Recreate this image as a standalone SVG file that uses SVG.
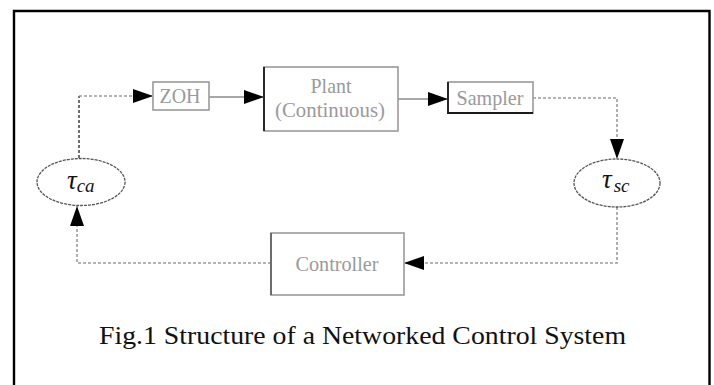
<svg xmlns="http://www.w3.org/2000/svg" width="714" height="385" viewBox="0 0 714 385">
  <style>
    .box { fill: #ffffff; stroke: #9a9a9a; stroke-width: 1.6; }
    .edge { fill: none; stroke: #1a1a1a; stroke-width: 1.8; }
    .lbl { font-family: "Liberation Serif", "Times New Roman", serif; font-size: 22px; fill: #9a9a9a; text-anchor: middle; }
    .tau { font-family: "Liberation Serif", "Times New Roman", serif; font-style: italic; fill: #111111; }
    .solid { fill: none; stroke: #a8a8a8; stroke-width: 2.2; }
    .dash { fill: none; stroke: #9c9c9c; stroke-width: 1.6; stroke-dasharray: 3 2; }
    .dash-dark { fill: none; stroke: #333333; stroke-width: 1.4; stroke-dasharray: 3 2; }
    .oval { fill: #ffffff; stroke: #555555; stroke-width: 1.3; stroke-dasharray: 3 1; }
    .caption { font-family: "Liberation Serif", "Times New Roman", serif; font-size: 26px; fill: #111111; }
  </style>
  <defs>
    <marker id="arrow" markerUnits="userSpaceOnUse" markerWidth="20" markerHeight="14" refX="20" refY="7" orient="auto">
      <path d="M0,0 L20,7 L0,14 Z" fill="#000000"/>
    </marker>
  </defs>

  <rect x="0" y="0" width="714" height="385" fill="#ffffff"/>

  <!-- outer frame (open at the bottom) -->
  <path d="M14,390 V11 H709.5 V390" fill="none" stroke="#000000" stroke-width="2.4"/>

  <!-- connectors -->
  <g id="connectors">
    <path class="dash-dark" d="M79,158 V96"/>
    <path class="dash" d="M79,96 H153" marker-end="url(#arrow)"/>
    <path class="solid" d="M209,97 H264" marker-end="url(#arrow)"/>
    <path class="solid" d="M398,99 H448" marker-end="url(#arrow)"/>
    <path class="dash" d="M533,98 H617 V159" marker-end="url(#arrow)"/>
    <path class="dash" d="M617,207 V263 H404" marker-end="url(#arrow)"/>
    <path class="dash" d="M271,263 H77 V206" marker-end="url(#arrow)"/>
  </g>

  <g id="zoh">
    <rect class="box" x="153" y="82" width="56" height="28"/>
    <text class="lbl" x="180" y="103" textLength="41" lengthAdjust="spacingAndGlyphs">ZOH</text>
  </g>

  <g id="plant">
    <rect class="box" x="264" y="67" width="134" height="64"/>
    <path class="edge" d="M264,67 V131"/>
    <text class="lbl" x="331" y="93" textLength="41" lengthAdjust="spacingAndGlyphs">Plant</text>
    <text class="lbl" x="330" y="117" textLength="110" lengthAdjust="spacingAndGlyphs">(Continuous)</text>
  </g>

  <g id="sampler">
    <rect class="box" x="448" y="82" width="85" height="31" stroke="#444444"/>
    <path class="edge" d="M448,82 V113 H533"/>
    <text class="lbl" x="490" y="105" textLength="67" lengthAdjust="spacingAndGlyphs">Sampler</text>
  </g>

  <g id="controller">
    <rect class="box" x="271" y="233" width="133" height="62"/>
    <path d="M271,233 V295" fill="none" stroke="#666666" stroke-width="1.8"/>
    <text class="lbl" x="337" y="271" textLength="83" lengthAdjust="spacingAndGlyphs">Controller</text>
  </g>

  <g id="tau-ca">
    <ellipse class="oval" cx="81" cy="182" rx="44" ry="23.5"/>
    <text class="tau" x="67" y="189" font-size="27">τ<tspan font-size="19" dy="3">ca</tspan></text>
  </g>

  <g id="tau-sc">
    <ellipse class="oval" cx="617" cy="183" rx="43" ry="24"/>
    <text class="tau" x="602" y="188" font-size="27">τ<tspan font-size="19" dx="2" dy="4">sc</tspan></text>
  </g>

  <text class="caption" x="99" y="344" textLength="527" lengthAdjust="spacingAndGlyphs">Fig.1 Structure of a Networked Control System</text>
</svg>
